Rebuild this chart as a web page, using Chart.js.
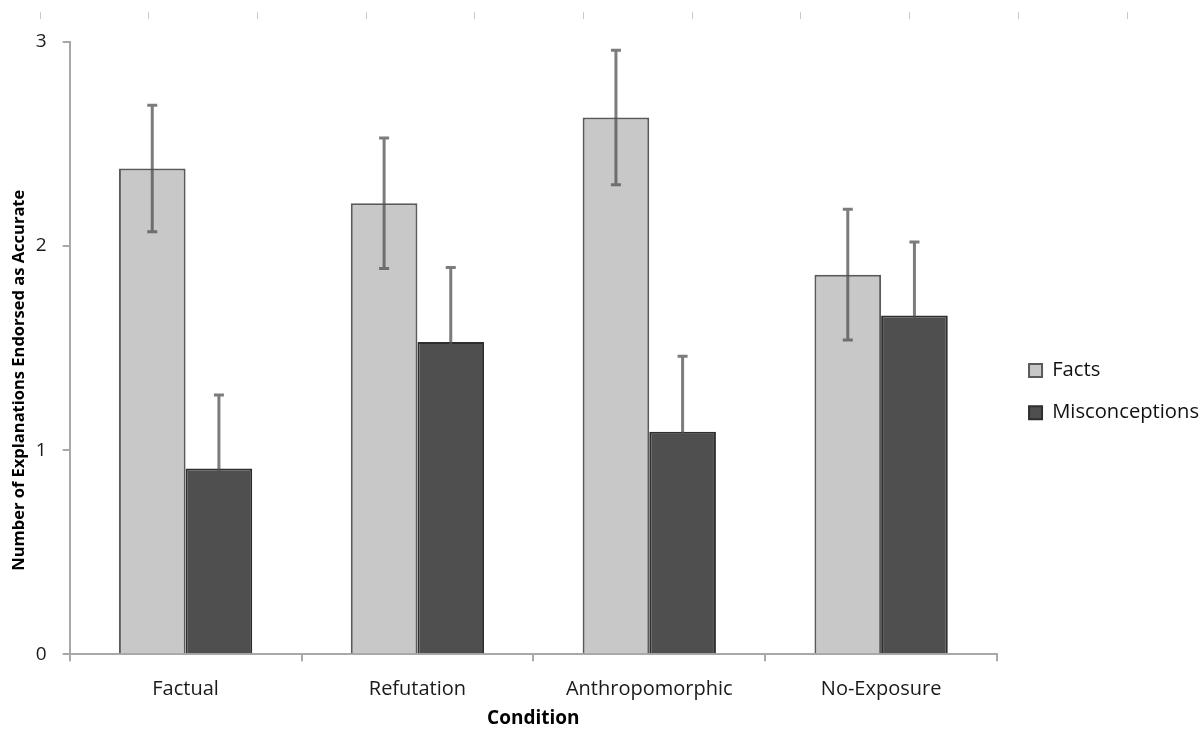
<!DOCTYPE html>
<html>
<head>
<meta charset="utf-8">
<script src="https://cdn.jsdelivr.net/npm/chart.js@4/dist/chart.umd.min.js"></script>
<style>
    html, body { margin: 0; padding: 0; background: #fff; }
    #wrap { width: 1203px; height: 730px; position: relative; }
</style>
</head>
<body>
<div id="wrap"><canvas id="endorseChart"></canvas></div>
<script>
    // values
    var conditions = ['Factual', 'Refutation', 'Anthropomorphic', 'No-Exposure'];
    var factsMean = [2.38, 2.21, 2.63, 1.86];
    var factsErr = [0.31, 0.32, 0.33, 0.32];
    var miscMean = [0.91, 1.53, 1.09, 1.66];
    var miscErr = [0.36, 0.365, 0.37, 0.36];
    var yTicks = [0, 1, 2, 3];

    var fontFamily = '"Open Sans", Lato, sans-serif';

    // error bars, drawn through the y scale
    var errorBars = {
        id: 'errorBars',
        afterDatasetsDraw: function (chart) {
            var ctx = chart.ctx;
            var yScale = chart.scales.y;
            chart.data.datasets.forEach(function (ds, di) {
                var meta = chart.getDatasetMeta(di);
                meta.data.forEach(function (bar, i) {
                    var v = ds.data[i];
                    var e = ds.errors[i];
                    var top = yScale.getPixelForValue(v + e);
                    var bot = yScale.getPixelForValue(v - e);
                    ctx.save();
                    ctx.strokeStyle = 'rgba(80, 80, 80, 0.75)';
                    ctx.lineWidth = 3;
                    ctx.beginPath();
                    ctx.moveTo(bar.x, top);
                    ctx.lineTo(bar.x, bot);
                    ctx.moveTo(bar.x - 5, top);
                    ctx.lineTo(bar.x + 5, top);
                    ctx.moveTo(bar.x - 5, bot);
                    ctx.lineTo(bar.x + 5, bot);
                    ctx.stroke();
                    ctx.restore();
                });
            });
        }
    };

    // little ruler marks along the top edge of the original screenshot
    var rulerMarks = {
        id: 'rulerMarks',
        beforeDraw: function (chart) {
            var ctx = chart.ctx;
            ctx.save();
            ctx.strokeStyle = '#c8c8c8';
            ctx.lineWidth = 1;
            for (var x = 39.5; x < chart.width; x += 108.7) {
                ctx.beginPath();
                ctx.moveTo(Math.round(x) + 0.5, 12);
                ctx.lineTo(Math.round(x) + 0.5, 19);
                ctx.stroke();
            }
            ctx.restore();
        }
    };

    // legend sits a bit further from the plot than its padding gives
    var legendNudge = {
        id: 'legendNudge',
        afterLayout: function (chart) {
            chart.legend.left += 10;
            chart.legend.right += 10;
        }
    };

    var ctx = document.getElementById('endorseChart').getContext('2d');
    new Chart(ctx, {
        type: 'bar',
        data: {
            labels: conditions,
            datasets: [{
                label: 'Facts',
                data: factsMean,
                errors: factsErr,
                backgroundColor: '#c8c8c8',
                borderColor: '#5a5a5a',
                borderWidth: 2,
                borderSkipped: 'bottom'
            }, {
                label: 'Misconceptions',
                data: miscMean,
                errors: miscErr,
                backgroundColor: '#4f4f4f',
                borderColor: '#2e2e2e',
                borderWidth: 2,
                borderSkipped: 'bottom'
            }]
        },
        plugins: [errorBars, rulerMarks, legendNudge],
        options: {
            responsive: true,
            maintainAspectRatio: false,
            animation: false,
            categoryPercentage: 0.575,
            barPercentage: 1.0,
            layout: {
                padding: { top: 42, right: 4, bottom: 0, left: 9 }
            },
            plugins: {
                legend: {
                    position: 'right',
                    title: {
                        display: true,
                        text: ' ',
                        font: { size: 1 },
                        padding: { top: 5, bottom: 5 }
                    },
                    labels: {
                        font: { family: fontFamily, size: 20.2 },
                        color: '#111',
                        boxWidth: 13,
                        boxHeight: 13,
                        padding: 22
                    }
                },
                tooltip: { enabled: false }
            },
            scales: {
                x: {
                    offset: true,
                    grid: {
                        display: true,
                        offset: true,
                        drawOnChartArea: false,
                        tickLength: 7,
                        color: '#a8a8a8',
                        lineWidth: 2
                    },
                    border: { color: '#a8a8a8', width: 2 },
                    ticks: {
                        font: { family: fontFamily, size: 20 },
                        color: '#1a1a1a',
                        padding: 16
                    },
                    title: {
                        display: true,
                        text: 'Condition',
                        font: { family: fontFamily, size: 19, weight: 'bold' },
                        color: '#000',
                        padding: { top: -10, bottom: 0 }
                    }
                },
                y: {
                    min: 0,
                    max: 3,
                    afterBuildTicks: function (axis) {
                        axis.ticks = yTicks.map(function (v) { return { value: v }; });
                    },
                    grid: {
                        display: true,
                        drawOnChartArea: false,
                        tickLength: 7,
                        color: '#a8a8a8',
                        lineWidth: 2
                    },
                    border: { color: '#a8a8a8', width: 2 },
                    ticks: {
                        font: { family: fontFamily, size: 19 },
                        color: '#1a1a1a',
                        padding: 16
                    },
                    title: {
                        display: true,
                        // trailing spaces push the centred title down the axis, as in the figure
                        text: 'Number of Explanations Endorsed as Accurate' + '\u00a0'.repeat(15),
                        font: { family: fontFamily, size: 16.5, weight: 'bold' },
                        color: '#000',
                        padding: { top: 0, bottom: -9 }
                    }
                }
            }
        }
    });
</script>
</body>
</html>
